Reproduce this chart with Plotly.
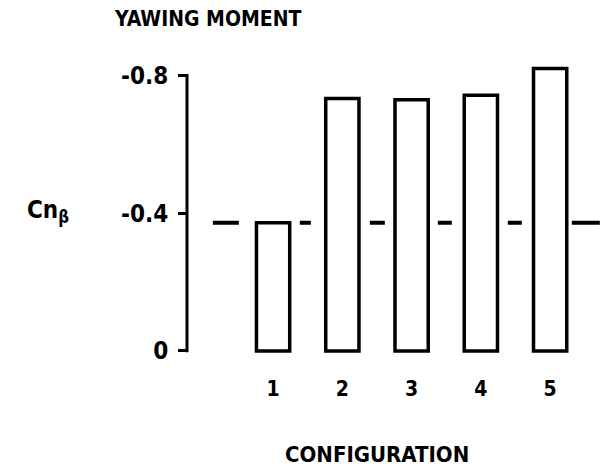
import plotly.graph_objects as go

# Yawing-moment derivative for each configuration
configurations = [1, 2, 3, 4, 5]
cn_beta = [-0.372, -0.733, -0.729, -0.742, -0.82]
reference_level = -0.372
ref_span = [0.13, 5.72]

y_tick_vals = [0, -0.4, -0.8]
y_tick_text = ["0", "-0.4", "-0.8"]
y_axis_span = [0.004, -0.804]

FONT = "DejaVu Sans Condensed, Liberation Sans Narrow, Arial Narrow, sans-serif"

fig = go.Figure()

# dashed reference level, drawn beneath the bars
fig.add_trace(go.Scatter(
    x=ref_span, y=[reference_level, reference_level],
    mode="lines",
    line=dict(color="black", width=4,
              dash="26px,61px,11px,59px,15px,53px,14px,56px,14px,50px,28px"),
    hoverinfo="skip", showlegend=False,
))

fig.add_trace(go.Bar(
    x=configurations, y=cn_beta, width=0.48,
    marker=dict(color="white", line=dict(color="black", width=3.5)),
    showlegend=False,
))

fig.update_layout(
    width=605, height=471,
    margin=dict(l=187, r=5, t=65, b=118),
    paper_bgcolor="white", plot_bgcolor="white",
    font=dict(family=FONT, color="black", size=20),
    xaxis=dict(
        range=[-0.243, 5.72], showgrid=False, zeroline=False, showline=False,
        tickvals=configurations, ticktext=[str(c) for c in configurations],
        ticks="", ticklabelstandoff=21,
        tickfont=dict(family=FONT, size=21, weight="bold"),
    ),
    yaxis=dict(
        range=[0.006, -0.83], showgrid=False, zeroline=False, showline=False,
        tickvals=y_tick_vals, ticktext=y_tick_text,
        ticks="outside", ticklen=8, tickwidth=3, tickcolor="black",
        ticklabelstandoff=5,
        tickfont=dict(family=FONT, size=24, weight="bold"),
    ),
    # vertical axis line only spans the labelled range
    shapes=[dict(type="line", xref="paper", yref="y",
                 x0=0, x1=0, y0=y_axis_span[0], y1=y_axis_span[1],
                 line=dict(color="black", width=3))],
    annotations=[
        dict(text="<b>YAWING MOMENT</b>", xref="paper", yref="paper",
             x=-0.182, y=1.160, xanchor="left", yanchor="middle",
             showarrow=False, font=dict(family=FONT, size=21)),
        dict(text="<b>Cn<sub>β</sub></b>", xref="paper", yref="paper",
             x=-0.392, y=0.493, xanchor="left", yanchor="middle",
             showarrow=False, font=dict(family=FONT, size=24)),
        dict(text="<b>CONFIGURATION</b>", xref="paper", yref="paper",
             x=0.46, y=-0.354, xanchor="center", yanchor="middle",
             showarrow=False, font=dict(family=FONT, size=22)),
    ],
)

fig.write_html("out.html")
